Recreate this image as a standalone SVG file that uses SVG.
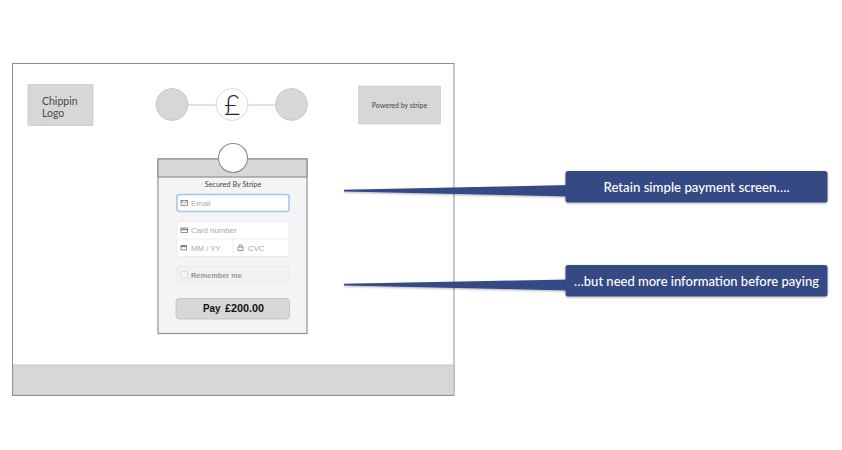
<svg xmlns="http://www.w3.org/2000/svg" width="842" height="450" viewBox="0 0 842 450">
<defs>
<filter id="sh" x="-5%" y="-20%" width="110%" height="150%"><feDropShadow dx="0" dy="1" stdDeviation="1" flood-color="#000" flood-opacity="0.3"/></filter>
<style>
.lato{font-family:Lato,"Noto Sans",sans-serif}
.arial{font-family:"Liberation Sans",Arial,sans-serif}
.os{font-family:Lato,"Noto Sans",sans-serif;font-size:14px;fill:#fff;font-weight:500}
.ph{font-family:"Liberation Sans",Arial,sans-serif;font-size:7.800px;fill:#a8a8ac}
.grey{fill:#d7d7d7}
.field{fill:#fff;stroke:#e8e8ea;stroke-width:.8}
.ico{fill:none;stroke:#77777b;stroke-width:.8}
.call{fill:#354a85}
</style>
</defs>
<rect width="842" height="450" fill="#fff"/>
<g id="frame">
<rect x="12.500" y="63.500" width="441.500" height="332" fill="#fff" stroke="#8e8e8e" stroke-width="1"/>
<rect x="13" y="365" width="441" height="30" class="grey" stroke="#a8a8a8" stroke-width=".6"/>
</g>
<g id="logo">
<rect x="28" y="84.500" width="65" height="41" class="grey" stroke="#c4c4c4" stroke-width=".7"/>
<text x="42" y="104.500" class="lato" font-size="10.500" fill="#4a4a4a">Chippin</text>
<text x="42" y="117" class="lato" font-size="10.500" fill="#4a4a4a">Logo</text>
</g>
<g id="steps">
<line x1="187" y1="105" x2="276" y2="105" stroke="#c6c6c6" stroke-width="1"/>
<circle cx="172" cy="104.500" r="16" class="grey" stroke="#bdbdbd" stroke-width=".7"/>
<circle cx="232" cy="104.500" r="16" fill="#fff" stroke="#cfcfcf" stroke-width=".8"/>
<circle cx="291.500" cy="104.500" r="16" class="grey" stroke="#bdbdbd" stroke-width=".7"/>
<text x="232" y="114.500" text-anchor="middle" class="lato" font-size="28" font-weight="300" fill="#1a2233">£</text>
</g>
<g id="powered">
<rect x="358.500" y="86" width="82" height="38" class="grey" stroke="#c6c6c6" stroke-width=".6"/>
<text x="399.500" y="107.500" text-anchor="middle" class="lato" font-size="7" fill="#444">Powered by stripe</text>
</g>
<g id="stripe-form">
<rect x="158" y="159" width="149" height="174.500" fill="#f4f4f6" stroke="#8f8f8f" stroke-width="1.200"/>
<rect x="158" y="159" width="149" height="18" class="grey" stroke="#8f8f8f" stroke-width="1.200"/>
<circle cx="233" cy="158" r="14.500" fill="#fff" stroke="#8f8f8f" stroke-width="1.100"/>
<text x="233" y="187" text-anchor="middle" class="lato" font-size="7.300" fill="#444">Secured By Stripe</text>
<rect x="177" y="194.500" width="112" height="17" rx="2.500" fill="#fff" stroke="#a9c4ea" stroke-width="1.600"/>
<rect x="181" y="200.500" width="6.500" height="5" class="ico"/><path d="M181 201l3.200 2.400 3.300-2.400" class="ico"/>
<text x="191" y="205.500" class="ph">Email</text>
<rect x="177" y="221.500" width="112" height="35" rx="2" class="field"/>
<line x1="177" y1="239" x2="289" y2="239" stroke="#e8e8ea" stroke-width=".8"/>
<line x1="233" y1="239" x2="233" y2="256.500" stroke="#e8e8ea" stroke-width=".8"/>
<rect x="181" y="228" width="6.500" height="4.500" class="ico"/><line x1="181" y1="229.500" x2="187.500" y2="229.500" stroke="#77777b" stroke-width="1.200"/>
<text x="191" y="233" class="ph">Card number</text>
<rect x="181" y="245.500" width="5.500" height="4.500" class="ico"/><line x1="181" y1="246.500" x2="186.500" y2="246.500" stroke="#77777b" stroke-width="1.200"/>
<text x="191" y="250.500" class="ph">MM / YY</text>
<rect x="238" y="247" width="5" height="3.500" class="ico"/><path d="M239.200 247v-1.200a1.300 1.300 0 0 1 2.600 0v1.200" class="ico"/>
<text x="248" y="250.500" class="ph">CVC</text>
<rect x="177" y="266.500" width="112" height="17" rx="2" fill="#f1f1f3" stroke="#e8e8ea" stroke-width=".8"/>
<rect x="181" y="271.500" width="6.500" height="6.500" rx="1.500" fill="#f6f6f8" stroke="#d4d4d8" stroke-width=".8"/>
<text x="191" y="277.500" class="arial" font-size="7.400" font-weight="700" fill="#98989c">Remember me</text>
<rect x="176" y="298.500" width="113.500" height="20.500" rx="3.500" fill="#d7d7d7" stroke="#bdbdbd" stroke-width=".8"/>
<text x="203" y="312" class="arial" font-size="10.800" font-weight="700" fill="#111" textLength="17.500" lengthAdjust="spacingAndGlyphs">Pay</text>
<text x="225" y="312" class="arial" font-size="10.800" font-weight="700" fill="#111">£200.00</text>
</g>
<g id="connectors">
<path d="M344 189.800L570 185V196.500L344 191.500Z" class="call" filter="url(#sh)"/>
<path d="M344 283.800L570 279.500V290.500L344 285.500Z" class="call" filter="url(#sh)"/>
</g>
<g id="callout-1">
<rect x="565.500" y="171" width="262" height="31.500" rx="2.500" class="call" filter="url(#sh)"/>
<text x="696.500" y="191.500" text-anchor="middle" class="os" textLength="186" lengthAdjust="spacingAndGlyphs">Retain simple payment screen….</text>
</g>
<g id="callout-2">
<rect x="565.500" y="265" width="262" height="31.500" rx="2.500" class="call" filter="url(#sh)"/>
<text x="696.500" y="286" text-anchor="middle" class="os" textLength="245" lengthAdjust="spacingAndGlyphs">…but need more information before paying</text>
</g>
</svg>
